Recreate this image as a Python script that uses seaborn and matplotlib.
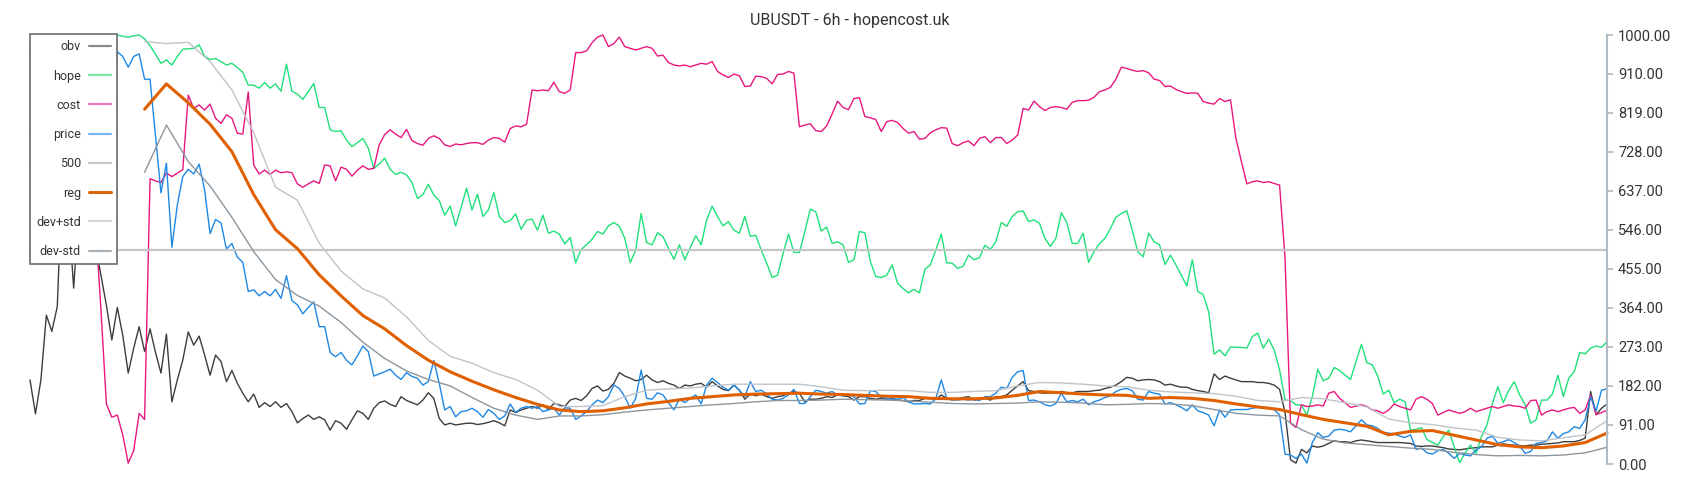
import numpy as np
import seaborn as sns
import matplotlib.pyplot as plt
from matplotlib.lines import Line2D

# values, one per 6h candle
obv = [196, 117, 196, 347, 309, 367, 700, 600, 410, 600, 680, 620, 510, 440, 370, 289, 365, 300, 212, 270,
       320, 262, 315, 260, 212, 303, 145, 196, 242, 308, 277, 298, 254, 207, 254, 239, 192, 218, 188, 165,
       145, 163,
       132, 143, 134, 145, 132, 141, 122, 96, 106, 114, 104, 110, 103, 79, 101, 95, 81, 103, 124, 118,
       104, 130, 143, 147, 139, 134, 157, 148, 143, 138, 149, 166, 153, 106, 91, 95, 91, 93, 95, 95, 92, 94,
       97, 101, 96, 89, 126, 120, 126, 130, 134, 130, 138, 127, 141, 138, 134, 149, 153, 148, 159, 176,
       182, 170, 174, 188, 213, 205, 200, 194, 197, 207, 196, 190, 194, 188, 184, 176, 184, 182, 186, 188, 179,
       192, 182, 174, 171, 184, 172, 151, 163, 159, 163, 157, 153, 157, 159, 165, 169, 165, 145, 151, 151,
       153, 157, 155, 161, 159, 157, 149, 157, 157, 153, 151, 153, 151, 153, 149, 148, 145, 148, 148, 153,
       153, 150,
       161, 153, 149, 151, 155, 157, 149, 151, 153, 149, 157, 157, 161, 172, 182, 192, 171, 169, 166, 165,
       166, 166, 169, 166, 166, 169, 169, 169, 171, 172, 176, 179, 184, 192, 202, 200, 194, 196, 197, 196, 192,
       184, 186, 182, 179, 179, 174, 171, 169, 166, 210, 197, 205, 200, 196, 192, 192, 192, 190, 190, 188,
       184, 174, 120, 10, 2, 34, 26, 42, 39, 42, 48, 54, 52, 52, 50, 54, 56, 54, 52, 50, 50, 50,
       50, 50, 49, 48, 42, 41, 42, 42, 40, 38, 35, 34, 33, 35, 37, 38, 40, 40, 40, 44,
       47, 45, 44, 43, 42, 44, 44, 46, 47, 48, 49, 52, 52, 52, 55, 60, 169, 115, 130, 140]

hope = [965, 975, 990, 985, 995, 1000, 990, 985, 995, 1000, 992, 985, 990, 995, 984, 990, 1000, 997, 995, 998,
        1000, 991, 975, 955, 934, 942, 930, 950, 967, 968, 969, 977, 950, 943, 945, 938, 930, 934, 924, 913,
        883, 883,
        876, 889, 876, 886, 869, 932, 869, 862, 850, 868, 887, 831, 831, 779, 775, 777, 755, 740, 749, 759,
        736, 689, 699, 713, 687, 675, 680, 674, 656, 619, 628, 652, 627, 614, 580, 601, 555, 598, 643, 592,
        629, 577,
        592, 633, 577, 563, 567, 583, 547, 568, 571, 545, 580, 538, 543, 536, 513, 528, 469, 500, 511, 524,
        542, 536, 555, 563, 554, 526, 469, 499, 584, 516, 511, 539, 530, 503, 477, 511, 476, 505, 532, 511, 569,
        601, 577, 555, 565, 545, 538, 577, 531, 533, 499, 468, 435, 440, 490, 536, 493, 493, 542, 594, 588,
        543, 552, 514, 518, 511, 470, 476, 542, 539, 472, 437, 435, 440, 464, 421, 409, 399, 407, 399, 454,
        464, 499,
        536, 469, 468, 456, 461, 487, 476, 481, 510, 500, 518, 563, 554, 577, 588, 590, 565, 569, 561, 526,
        507, 526, 586, 563, 514, 514, 538, 470, 495, 514, 526, 549, 575, 584, 590, 545, 495, 483, 538, 518, 511,
        465, 487, 464, 440, 415, 476, 402, 395, 355, 256, 266, 252, 273, 272, 272, 270, 297, 305, 270, 291,
        266, 219, 149, 148, 138, 138, 114, 157, 221, 194, 200, 225, 218, 207, 197, 239, 279, 236, 231, 204,
        163, 172,
        143, 151, 145, 79, 81, 85, 57, 50, 44, 64, 79, 40, 3, 26, 44, 25, 64, 91, 141, 180,
        143, 172, 192, 161, 138, 95, 103, 149, 149, 163, 207, 157, 200, 215, 260, 257, 270, 275, 272, 285]

cost = [780, 800, 840, 830, 860, 880, 870, 860, 880, 850, 820, 740, 560, 360, 140, 109, 114, 68, 2, 31,
        118, 104, 665, 660, 656, 678, 670, 678, 686, 860, 829, 837, 825, 839, 806, 794, 814, 806, 771, 769,
        867, 697,
        676, 685, 675, 685, 679, 681, 679, 653, 645, 653, 660, 654, 697, 695, 660, 692, 687, 671, 685, 695,
        687, 689, 744, 768, 779, 769, 761, 780, 754, 747, 743, 759, 765, 759, 744, 740, 746, 744, 747, 749,
        749, 745,
        755, 761, 759, 750, 782, 788, 786, 792, 872, 870, 872, 870, 890, 868, 864, 872, 959, 959, 963, 982,
        995, 1000, 973, 980, 995, 973, 969, 965, 969, 973, 969, 951, 953, 936, 930, 928, 930, 926, 930, 934, 932,
        938, 915, 907, 901, 909, 905, 880, 881, 904, 903, 899, 886, 908, 909, 915, 911, 786, 790, 793, 777,
        775, 788, 816, 846, 831, 826, 852, 854, 810, 807, 803, 775, 798, 801, 796, 782, 771, 775, 757, 759,
        772, 779,
        784, 783, 747, 742, 749, 753, 742, 759, 763, 749, 761, 761, 747, 755, 767, 829, 825, 846, 833, 824,
        831, 833, 831, 827, 843, 847, 847, 848, 855, 868, 872, 878, 897, 925, 922, 918, 915, 917, 912, 897, 894,
        880, 881, 873, 868, 864, 865, 864, 845, 841, 839, 852, 845, 849, 759, 705, 653, 658, 660, 656, 658,
        654, 650, 480, 95, 85, 138, 134, 135, 138, 135, 165, 169, 153, 143, 132, 135, 138, 134, 126, 124,
        118, 126,
        140, 134, 130, 126, 151, 157, 151, 141, 114, 120, 126, 122, 118, 122, 130, 122, 126, 130, 134, 130,
        134, 138, 135, 134, 130, 148, 149, 114, 122, 126, 122, 126, 130, 132, 118, 126, 161, 115, 120, 125]

price = [700, 720, 760, 800, 780, 820, 850, 870, 840, 880, 900, 920, 900, 890, 870, 829, 961, 950, 925, 950,
         956, 897, 897, 765, 632, 701, 505, 604, 670, 687, 676, 699, 639, 537, 570, 562, 501, 514, 482, 470,
         402, 406,
         392, 402, 392, 407, 386, 439, 381, 371, 350, 365, 378, 320, 320, 260, 250, 260, 242, 231, 252, 275,
         262, 205, 210, 215, 221, 207, 197, 213, 204, 200, 184, 192, 241, 188, 126, 134, 110, 122, 124, 130,
         122, 109,
         127, 118, 104, 112, 140, 120, 130, 134, 130, 134, 122, 126, 130, 114, 131, 130, 104, 112, 122, 138,
         149, 143, 157, 184, 176, 157, 130, 153, 219, 153, 151, 166, 161, 143, 126, 151, 143, 153, 161, 140, 184,
         200, 190, 179, 172, 184, 172, 157, 192, 169, 172, 163, 151, 149, 153, 161, 174, 141, 141, 157, 172,
         169, 165, 169, 161, 159, 161, 157, 140, 141, 171, 169, 155, 153, 151, 151, 155, 145, 140, 140, 141,
         140, 153,
         196, 153, 151, 149, 151, 149, 151, 148, 157, 157, 165, 179, 176, 202, 215, 218, 148, 149, 145, 138,
         135, 141, 165, 145, 148, 145, 151, 138, 145, 149, 155, 159, 169, 174, 176, 171, 151, 149, 169, 165, 163,
         140, 143, 138, 132, 124, 138, 124, 120, 114, 89, 126, 109, 126, 127, 127, 127, 130, 132, 130, 132,
         127, 114, 23, 21, 13, 23, 2, 50, 73, 62, 65, 79, 81, 79, 75, 89, 103, 91, 89, 83,
         73, 72,
         70, 65, 62, 68, 34, 37, 26, 23, 31, 34, 25, 13, 25, 21, 19, 33, 40, 60, 65, 48,
         52, 57, 50, 42, 25, 29, 48, 50, 54, 75, 60, 71, 75, 87, 83, 103, 157, 124, 172, 175]

# regression line and its bands, read every 4th candle from 21 on
band_idx = list(range(21, 290, 4))
reg = [827, 886, 842, 792, 728, 628, 546, 502, 441, 392,
       346, 315, 276, 242, 215, 193, 173, 155, 139, 126,
       122, 124, 131, 140, 146, 153, 157, 161, 163, 164,
       165, 163, 162, 160, 158, 157, 153, 152, 152, 154,
       160, 169, 166, 163, 161, 160, 153, 155, 153, 148,
       140, 133, 127, 115, 104, 96, 88, 68, 76, 78,
       67, 56, 45, 40, 38, 42, 50, 72]
dev_plus = [985, 980, 983, 938, 872, 772, 645, 615, 515, 450,
            408, 387, 343, 288, 251, 235, 213, 197, 172, 134,
            134, 136, 157, 172, 175, 177, 182, 186, 186, 186,
            186, 180, 172, 171, 172, 171, 167, 167, 169, 171,
            182, 190, 189, 186, 182, 180, 172, 168, 166, 164,
            158, 148, 145, 155, 152, 143, 133, 105, 96, 92,
            84, 79, 62, 56, 54, 61, 68, 101]
dev_minus = [680, 790, 705, 648, 575, 495, 430, 393, 368, 330,
             284, 246, 217, 197, 182, 155, 130, 114, 104, 112,
             112, 115, 121, 126, 130, 134, 138, 141, 145, 148,
             148, 149, 151, 150, 149, 147, 144, 141, 140, 141,
             142, 145, 144, 142, 138, 139, 141, 140, 136, 127,
             118, 114, 112, 80, 58, 49, 45, 41, 37, 34,
             27, 22, 19, 20, 19, 21, 26, 39]

level = 500
y_ticks = [0, 91, 182, 273, 364, 455, 546, 637, 728, 819, 910, 1000]
title = "UBUSDT - 6h - hopencost.uk"

for name, arr in [("obv", obv), ("hope", hope), ("cost", cost), ("price", price)]:
    assert len(arr) == 290, (name, len(arr))
for name, arr in [("reg", reg), ("dev_plus", dev_plus), ("dev_minus", dev_minus)]:
    assert len(arr) == len(band_idx), (name, len(arr))

sns.set_theme(style="white")
plt.rcParams["font.family"] = ["Roboto", "DejaVu Sans"]

fig = plt.figure(figsize=(17, 5), dpi=100)
ax = fig.add_axes([30 / 1700, 36 / 500, 1577 / 1700, 429 / 500])

idx = np.arange(len(obv))
sns.lineplot(x=idx, y=obv, color="#3d3d3d", lw=1.0, ax=ax)
sns.lineplot(x=idx, y=hope, color="#1fe07a", lw=1.0, ax=ax)
sns.lineplot(x=idx, y=cost, color="#e8177f", lw=1.0, ax=ax)
sns.lineplot(x=idx, y=price, color="#1e88e5", lw=1.0, ax=ax)
ax.axhline(level, color="#c6c6c6", lw=1.6)
sns.lineplot(x=band_idx, y=reg, color="#e06000", lw=2.2, ax=ax)
sns.lineplot(x=band_idx, y=dev_plus, color="#bfc4c8", lw=1.0, ax=ax)
sns.lineplot(x=band_idx, y=dev_minus, color="#8c969e", lw=1.0, ax=ax)
for line in ax.lines:
    line.set_clip_on(False)

ax.set_xlim(0, len(obv) - 1)
ax.set_ylim(0, 1000)
ax.set_xticks([])
ax.set_xlabel("")
ax.set_ylabel("")
ax.yaxis.tick_right()
ax.set_yticks(y_ticks)
ax.set_yticklabels([f"{v:.2f}" for v in y_ticks])
ax.tick_params(axis="y", right=True, left=False, length=4, width=1.2, color="#b0bac2",
               labelsize=10.5, labelcolor="#333333", pad=4)
for s in ["top", "left", "bottom"]:
    ax.spines[s].set_visible(False)
ax.spines["right"].set_color("#b0bac2")
ax.spines["right"].set_linewidth(1.5)

# legend swatches are paler than the plotted lines in the original
labels = ["obv", "hope", "cost", "price", "500", "reg", "dev+std", "dev-std"]
swatch = ["#8a8a8a", "#7fe8a9", "#ef78b6", "#7ab6ee", "#c8c8c8", "#d96508", "#d3d7db", "#aab2b8"]
widths = [1.6, 1.6, 1.6, 1.6, 1.6, 2.2, 1.6, 1.6]
handles = [Line2D([], [], color=c, lw=w) for c, w in zip(swatch, widths)]
leg = ax.legend(handles, labels, loc="upper left", bbox_to_anchor=(30 / 1700, 1 - 34 / 500),
                bbox_transform=fig.transFigure, borderaxespad=0, frameon=True, fancybox=False,
                edgecolor="#6b6b6b", framealpha=1, fontsize=9, labelspacing=1.3,
                handlelength=1.8, handletextpad=0.6, borderpad=0.5, markerfirst=False)
leg.get_frame().set_linewidth(1.2)
for t in leg.get_texts():
    t.set_color("#333333")

fig.text(0.5, 1 - 20 / 500, title, ha="center", va="center", fontsize=11.5, color="#333333")

fig.savefig("out.png", dpi=100)
